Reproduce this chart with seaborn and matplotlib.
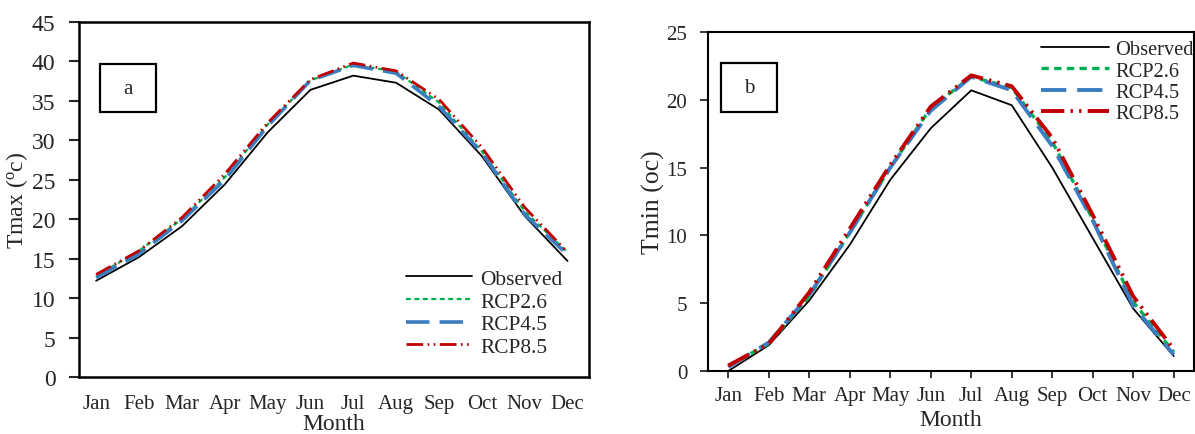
import numpy as np
import pandas as pd
import matplotlib
matplotlib.use("Agg")
import matplotlib.pyplot as plt
from matplotlib.patches import Rectangle
import seaborn as sns

months = ["Jan", "Feb", "Mar", "Apr", "May", "Jun", "Jul", "Aug", "Sep", "Oct", "Nov", "Dec"]
series_names = ["Observed", "RCP2.6", "RCP4.5", "RCP8.5"]

tmax_observed = [12.2, 15.2, 19.1, 24.4, 31.0, 36.4, 38.2, 37.3, 33.9, 28.0, 20.4, 14.7]
tmax_rcp26 = [12.8, 16.0, 20.0, 25.3, 32.0, 37.6, 39.6, 38.7, 34.8, 28.6, 21.0, 15.8]
tmax_rcp45 = [12.6, 15.6, 19.8, 25.0, 31.8, 37.6, 39.5, 38.5, 34.3, 28.4, 20.6, 15.5]
tmax_rcp85 = [13.0, 16.0, 20.2, 25.7, 32.2, 37.7, 39.8, 38.8, 35.2, 29.1, 21.5, 15.8]

tmin_observed = [0.0, 1.9, 5.2, 9.3, 14.1, 17.9, 20.7, 19.6, 15.0, 9.8, 4.6, 1.1]
tmin_rcp26 = [0.4, 2.0, 5.5, 10.2, 15.0, 19.4, 21.7, 20.9, 16.9, 11.2, 5.1, 1.4]
tmin_rcp45 = [0.3, 2.1, 5.6, 10.2, 15.0, 19.2, 21.7, 20.7, 16.6, 11.1, 4.8, 1.2]
tmin_rcp85 = [0.4, 2.0, 5.8, 10.5, 15.2, 19.5, 21.8, 21.0, 17.2, 11.5, 5.5, 1.6]

sns.set_style("white")
plt.rcParams["font.family"] = ["Liberation Serif", "DejaVu Serif"]
plt.rcParams["mathtext.fontset"] = "custom"
plt.rcParams["mathtext.rm"] = "Liberation Serif"
plt.rcParams["mathtext.it"] = "Liberation Serif"

colors = {"Observed": "#000000", "RCP2.6": "#00B050", "RCP4.5": "#3A7DC0", "RCP8.5": "#C00000"}
dashes = {"Observed": None, "RCP2.6": (2.2, 1.6), "RCP4.5": (6.5, 2.8),
          "RCP8.5": (6.0, 1.6, 0.6, 1.6, 0.6, 1.6)}

fig = plt.figure(figsize=(11.95, 4.35), dpi=100)
W, H = 1195, 435


def add_axes(l, r, t, b):
    return fig.add_axes([l / W, 1 - b / H, (r - l) / W, (b - t) / H])


def draw(ax, data, widths):
    for name, vals in zip(series_names, data):
        df = pd.DataFrame({"Month": months, "Value": vals})
        sns.lineplot(data=df, x="Month", y="Value", ax=ax, color=colors[name],
                     linewidth=widths[name], label=name, sort=False)
        line = ax.get_lines()[-1]
        if dashes[name] is not None:
            line.set_dashes(dashes[name])
    for s in ax.spines.values():
        s.set_visible(True)
        s.set_color("black")


def label_box(l, r, t, b, txt, size):
    fig.patches.append(Rectangle((l / W, 1 - b / H), (r - l) / W, (b - t) / H,
                                 transform=fig.transFigure, fc="white", ec="black",
                                 lw=1.6, zorder=5))
    fig.text((l + r) / 2 / W, 1 - (t + b) / 2 / H, txt, fontsize=size,
             ha="center", va="center", zorder=6)


# Panel a
ax1 = add_axes(79, 589, 23, 378)
draw(ax1, [tmax_observed, tmax_rcp26, tmax_rcp45, tmax_rcp85],
     {"Observed": 1.3, "RCP2.6": 1.6, "RCP4.5": 2.6, "RCP8.5": 2.0})
ax1.set_ylim(0, 45)
ax1.set_yticks(np.arange(0, 46, 5))
ax1.set_xlim(-0.4, 11.5)
for s in ax1.spines.values():
    s.set_linewidth(1.8)
ax1.tick_params(axis="y", direction="out", length=7, width=1.5, labelsize=17, left=True, pad=10)
ax1.tick_params(axis="x", length=0, labelsize=15, pad=12)
ax1.set_ylabel("Tmax ($^{o}$c)", fontsize=17, labelpad=1)
ax1.set_xlabel("Month", fontsize=17, labelpad=0)
label_box(100, 156, 65, 113, "a", 15)
ax1.legend(loc="upper left", bbox_to_anchor=(406 / W, 1 - 270 / H),
           bbox_transform=fig.transFigure, frameon=False, fontsize=15.4,
           handlelength=3.1, handletextpad=0.38, labelspacing=0.12,
           borderaxespad=0, borderpad=0)

# Panel b
ax2 = add_axes(708, 1194, 33, 372)
draw(ax2, [tmin_observed, tmin_rcp26, tmin_rcp45, tmin_rcp85],
     {"Observed": 1.3, "RCP2.6": 2.4, "RCP4.5": 2.8, "RCP8.5": 2.8})
ax2.set_ylim(0, 25)
ax2.set_yticks(np.arange(0, 26, 5))
ax2.set_xlim(-0.5, 11.5)
for s in ax2.spines.values():
    s.set_linewidth(1.5)
ax2.tick_params(axis="y", direction="out", length=6, width=1.3, labelsize=15, left=True, pad=9)
ax2.tick_params(axis="x", direction="out", length=5, width=1.3, labelsize=15, bottom=True, pad=6)
ax2.set_ylabel("Tmin (oc)", fontsize=18.5, labelpad=1)
ax2.set_xlabel("Month", fontsize=17, labelpad=3)
label_box(721, 777, 64, 113, "b", 15)
ax2.legend(loc="upper left", bbox_to_anchor=(1041 / W, 1 - 41 / H),
           bbox_transform=fig.transFigure, frameon=False, fontsize=14.7,
           handlelength=3.35, handletextpad=0.3, labelspacing=0.1,
           borderaxespad=0, borderpad=0)

fig.savefig("out.png", dpi=100, facecolor="white")
